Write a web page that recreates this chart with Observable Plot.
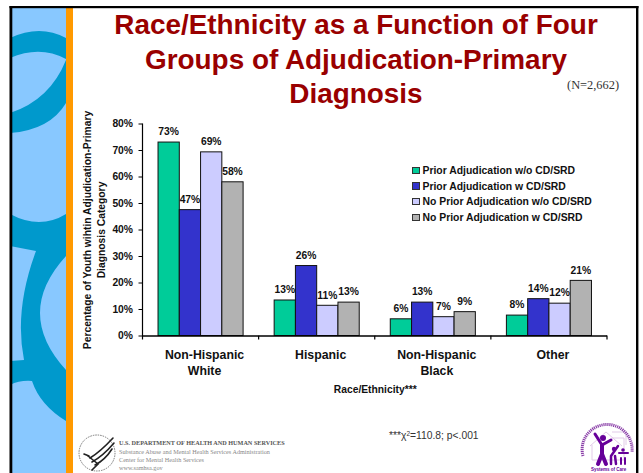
<!DOCTYPE html>
<html>
<head>
<meta charset="utf-8">
<script src="https://cdn.jsdelivr.net/npm/d3@7"></script>
<script src="https://cdn.jsdelivr.net/npm/@observablehq/plot@0.6"></script>
<style>
html,body{margin:0;padding:0;background:#fff;}
#slide{position:relative;width:643px;height:473px;overflow:hidden;font-family:"Liberation Sans",Arial,sans-serif;}
#slide>svg{position:absolute;left:0;top:0;}
#chart{position:absolute;left:0;top:0;width:643px;height:473px;}
.t{position:absolute;white-space:nowrap;}
#title{left:73px;width:566px;top:8px;text-align:center;color:#990000;font-weight:bold;font-size:27.9px;line-height:34.5px;}
#n{left:567px;top:78px;font-family:"Liberation Serif",serif;font-size:12.4px;color:#333;}
#stat{left:389px;top:430px;font-size:10.3px;color:#333;}
#stat sup{font-size:6.5px;line-height:0;vertical-align:3px;}
#legend{position:absolute;left:412px;top:163px;font-weight:bold;font-size:10.4px;color:#111;}
#legend div{height:15.7px;line-height:15px;white-space:nowrap;}
#legend i{display:inline-block;width:5.5px;height:5.5px;border:1px solid #333;margin-right:3px;vertical-align:0;}
.hhs{font-family:"Liberation Serif",serif;color:#888;font-size:6.2px;left:119px;}
</style>
</head>
<body>
<div id="slide">
<svg width="643" height="473" id="bg">
  <rect x="11" y="7" width="626" height="466" fill="#fff"/>
  <rect x="12" y="7" width="54" height="466" fill="#88C8FF"/>
  <g fill="#0099CC">
    <path d="M10,38 Q40,24 66,38 L66,59 Q40,45 10,58 Z"/>
    <path d="M66,60 Q50,100 10,113 L10,133 Q50,130 66,103 Z"/>
    <path d="M10,214 Q40,230 66,214 L66,256 Q14,313 66,370 L66,421 Q40,405 32,381 Q20,380 10,385 L10,361 L24,360 Q14,310 36,251 L10,246 Z"/>
  </g>
  <rect x="66" y="7" width="7" height="466" fill="#FF9900"/>
  <rect x="9.5" y="6" width="629" height="2.2" fill="#000"/>
  <rect x="9.5" y="6" width="2.8" height="467" fill="#000"/>
  <rect x="636" y="6" width="2.4" height="467" fill="#000"/>
  <circle cx="97" cy="453" r="18" fill="none" stroke="#777" stroke-width="1" stroke-dasharray="1.5 1"/>
  <g stroke="#222" stroke-width="1.6" fill="none" stroke-linecap="round">
    <path d="M90,458 Q100,452 113,438"/>
    <path d="M92,462 Q103,456 114,443"/>
    <path d="M95,465 Q105,460 112,449"/>
    <path d="M88,456 L98,464 L92,470"/>
    <path d="M84,454 L89,456"/>
  </g>
  <g fill="none">
    <path d="M590,446 L606,432 L622,446 M592,445 V460 H624 V438 H612 M612,432 H626 V445" stroke="#E2CBE8" stroke-width="1"/>
    <path d="M583,456 A25,25 0 1 1 632,452" stroke="#8A3FA8" stroke-width="3" stroke-dasharray="1.2 0.8"/>
    <g stroke="#660099" stroke-linecap="round">
      <path d="M595,434 L602,445 L611,440" stroke-width="3"/>
      <path d="M602,445 L602,454 L598,464 M602,454 L606,464" stroke-width="4"/>
      <path d="M611,456 L618,446 M611,456 L611,464 M615,456 L616,464" stroke-width="2.5"/>
      <path d="M621,458 L621,464 M625,458 L625,464 M619,453 L628,453" stroke-width="2"/>
    </g>
    <g fill="#660099">
      <circle cx="603" cy="438" r="3"/>
      <circle cx="614" cy="449" r="2.2"/>
      <circle cx="623" cy="450" r="1.8"/>
    </g>
  </g>
</svg>
<div class="t" id="title">Race/Ethnicity as a Function of Four<br>Groups of Adjudication-Primary<br>Diagnosis</div>
<div class="t" id="n">(N=2,662)</div>
<div id="chart"></div>
<div id="legend"></div>
<div class="t" id="stat">***χ<sup>2</sup>=110.8; p&lt;.001</div>
<div class="t hhs" style="top:439px;font-weight:bold;color:#555;">U.S. DEPARTMENT OF HEALTH AND HUMAN SERVICES</div>
<div class="t hhs" style="top:447.5px">Substance Abuse and Mental Health Services Administration</div>
<div class="t hhs" style="top:456px">Center for Mental Health Services</div>
<div class="t hhs" style="top:464px">www.samhsa.gov</div>
<div class="t" style="left:591px;top:467px;font-size:4.5px;font-weight:bold;color:#660099;">Systems of Care</div>
</div>
<script>
const categories = ["Non-Hispanic\nWhite", "Hispanic", "Non-Hispanic\nBlack", "Other"];
const seriesNames = [
  "Prior Adjudication w/o CD/SRD",
  "Prior Adjudication w CD/SRD",
  "No Prior Adjudication w/o CD/SRD",
  "No Prior Adjudication w CD/SRD"
];
const seriesColors = ["#00CC99", "#3333CC", "#CCCCFF", "#B2B2B2"];
const priorWithout = [73, 13.4, 6.3, 7.7];
const priorWith = [47.5, 26.4, 12.6, 13.9];
const noPriorWithout = [69.3, 11.4, 7.1, 12.2];
const noPriorWith = [58, 12.6, 9, 20.8];
const printedLabels = [
  [73, 13, 6, 8],
  [47, 26, 13, 14],
  [69, 11, 7, 12],
  [58, 13, 9, 21]
];
const yTicks = [0, 10, 20, 30, 40, 50, 60, 70, 80];

const columns = [priorWithout, priorWith, noPriorWithout, noPriorWith];
const rows = categories.flatMap((category, c) =>
  seriesNames.map((series, s) => ({category, series, value: columns[s][c], label: printedLabels[s][c] + "%"}))
);

const chart = Plot.plot({
  width: 643,
  height: 473,
  marginLeft: 142.5,
  marginRight: 36,
  marginTop: 123.5,
  marginBottom: 137.5,
  style: {background: "transparent", fontFamily: "'Liberation Sans',Arial,sans-serif", overflow: "visible"},
  fx: {domain: categories, padding: 0, round: false, label: null},
  x: {domain: seriesNames, axis: null, paddingInner: 0, paddingOuter: 0.73, round: false},
  y: {domain: [0, 80], ticks: yTicks, label: null},
  color: {domain: seriesNames, range: seriesColors},
  marks: [
    Plot.barY(rows, {fx: "category", x: "series", y: "value", fill: "series", stroke: "#111", strokeWidth: 1, inset: 0}),
    Plot.text(rows, {fx: "category", x: "series", y: "value", text: "label", dy: -10.5, dx: -0.5, fontWeight: "bold", fontSize: 10.3, fill: "#111"}),
    Plot.axisY({ticks: yTicks, tickFormat: d => d + "%", tickSize: 4, tickPadding: 6, fontWeight: "bold", fontSize: 10.3, stroke: "#000", fill: "#111", label: null}),
    Plot.axisFx({anchor: "bottom", tickSize: 0, tickPadding: 12, dx: 3.5, fontWeight: "bold", fontSize: 12.3, lineHeight: 1.3, fill: "#111", label: null}),
    Plot.ruleY([0], {stroke: "#000", strokeWidth: 1.3}),
    Plot.frame({
      facet: "super", stroke: "none",
      render(index, scales, values, dims, context, next) {
        const g = next(index, scales, values, dims, context);
        const {marginLeft: l, marginRight: r, marginTop: t, marginBottom: b, width: w, height: h} = dims;
        const step = (w - l - r) / categories.length;
        const d = d3.range(categories.length + 1).map(i => `M${l + i * step},${h - b}v4`).join("") + `M${l},${t}V${h - b}`;
        const root = context.document.createElementNS("http://www.w3.org/2000/svg", "g");
        d3.select(root).append("path").attr("d", d).attr("stroke", "#000").attr("stroke-width", 1.2).attr("fill", "none");
        if (g) root.append(g);
        return root;
      }
    }),
    Plot.text(["Race/Ethnicity***"], {facet: "super", frameAnchor: "bottom", lineAnchor: "middle", dy: 54, fontWeight: "bold", fontSize: 10.3, fill: "#111"}),
    Plot.text(["Percentage of Youth wihtin Adjudication-Primary\nDiagnosis Category"], {facet: "super", frameAnchor: "left", textAnchor: "middle", rotate: -90, dx: -49.5, fontWeight: "bold", fontSize: 10.3, lineHeight: 1.36, fill: "#111"})
  ]
});
document.getElementById("chart").append(chart);

const legend = d3.select("#legend");
seriesNames.forEach((name, i) => {
  const row = legend.append("div");
  row.append("i").style("background", seriesColors[i]);
  row.append("span").text(name);
});
</script>
</body>
</html>
